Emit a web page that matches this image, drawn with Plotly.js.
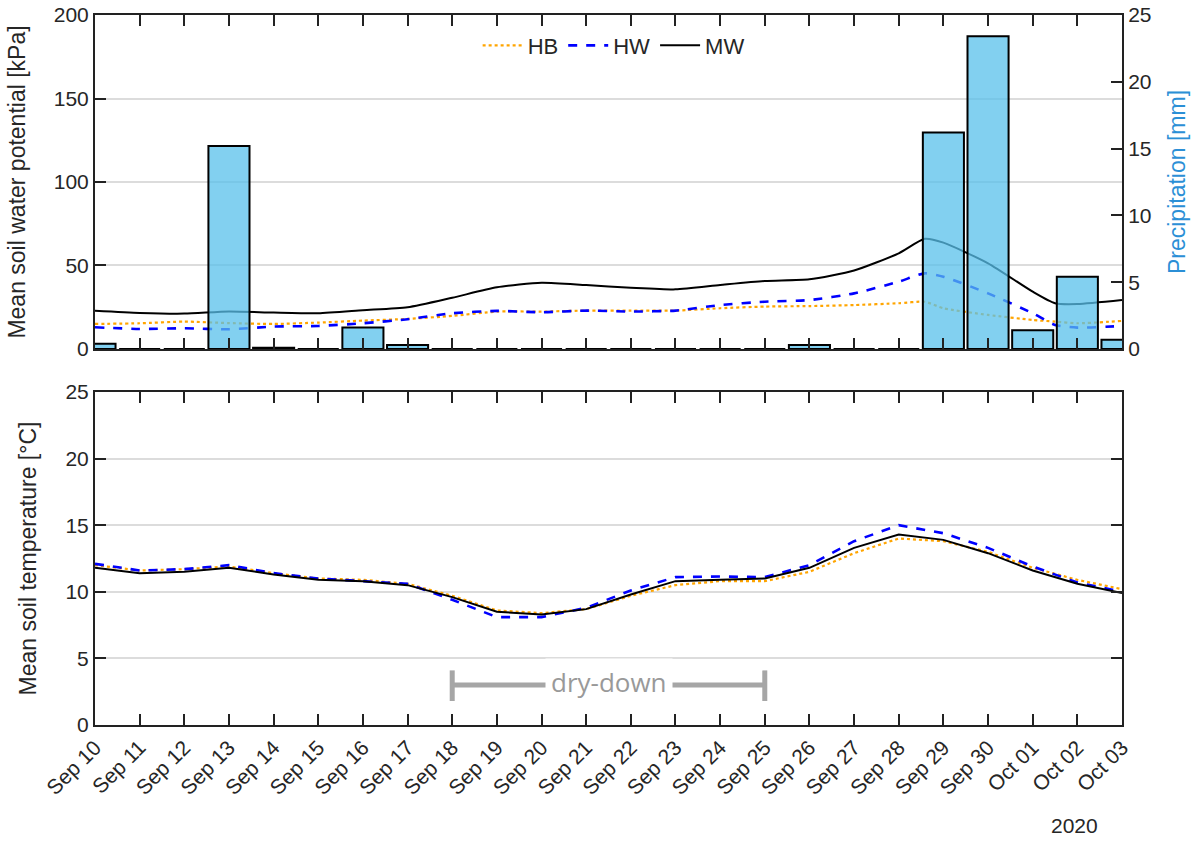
<!DOCTYPE html>
<html>
<head>
<meta charset="utf-8">
<script src="https://cdn.plot.ly/plotly-3.0.1.min.js"></script>
<style>
  html, body { margin: 0; padding: 0; background: #fff; }
  #chart { width: 1202px; height: 841px; }
</style>
</head>
<body>
<div id="chart"></div>
<script>
// ---- Data ----
// Precipitation (mm), daily
const precipDates = ['2020-09-10','2020-09-11','2020-09-12','2020-09-13','2020-09-14','2020-09-15','2020-09-16','2020-09-17','2020-09-18','2020-09-19','2020-09-20','2020-09-21','2020-09-22','2020-09-23','2020-09-24','2020-09-25','2020-09-26','2020-09-27','2020-09-28','2020-09-29','2020-09-30','2020-10-01','2020-10-02','2020-10-03'];
const precipMM   = [0.4, 0, 0, 15.2, 0.1, 0, 1.6, 0.3, 0, 0, 0, 0, 0, 0, 0, 0, 0.3, 0, 0, 16.2, 23.4, 1.4, 5.4, 0.7];

// Mean soil water potential (kPa)
const swpTimes = ['2020-09-10','2020-09-11','2020-09-12','2020-09-13','2020-09-14','2020-09-15','2020-09-16','2020-09-17','2020-09-18','2020-09-19','2020-09-20','2020-09-21','2020-09-22','2020-09-23','2020-09-24','2020-09-25','2020-09-26','2020-09-27','2020-09-28','2020-09-28 14:00','2020-09-29','2020-09-30','2020-10-01','2020-10-01 12:00','2020-10-02','2020-10-03'];
const swpHB = [15.0, 15.4, 16.4, 15.5, 15.0, 15.8, 17.0, 18.0, 19.8, 22.4, 22.4, 23.0, 23.0, 23.0, 24.4, 25.4, 25.7, 26.3, 27.4, 28.3, 24.4, 20.4, 17.4, 16.4, 15.4, 16.8];
const swpHW = [13.0, 12.0, 12.4, 11.8, 13.4, 13.8, 15.4, 17.8, 21.4, 22.8, 22.0, 23.0, 22.4, 23.0, 26.3, 28.3, 29.3, 33.3, 40.3, 45.3, 43.3, 33.3, 21.4, 14.4, 12.8, 13.8];
const swpMW = [22.9, 21.6, 21.2, 22.5, 21.8, 21.4, 23.2, 25.0, 30.7, 36.9, 39.7, 38.3, 36.7, 35.7, 38.3, 40.7, 41.7, 47.0, 57.3, 66.0, 63.7, 51.3, 34.3, 27.4, 26.9, 29.3];

// Mean soil temperature (°C), daily
const tempDates = precipDates;
const tempHB = [12.0, 11.6, 11.7, 11.9, 11.4, 11.0, 10.9, 10.6, 9.7, 8.6, 8.4, 8.7, 9.7, 10.5, 10.8, 10.8, 11.5, 12.9, 14.0, 13.8, 13.0, 11.8, 10.9, 10.2];
const tempHW = [12.1, 11.6, 11.7, 12.0, 11.4, 11.0, 10.8, 10.6, 9.4, 8.1, 8.1, 8.8, 10.1, 11.1, 11.15, 11.1, 12.0, 13.8, 15.0, 14.4, 13.3, 11.9, 10.7, 10.0];
const tempMW = [11.8, 11.4, 11.5, 11.8, 11.3, 10.9, 10.8, 10.5, 9.6, 8.5, 8.3, 8.7, 9.8, 10.8, 10.9, 11.0, 11.8, 13.3, 14.3, 13.9, 12.9, 11.6, 10.6, 9.9];

// Dry-down period
const dryDownPeriod = ['2020-09-18', '2020-09-25'];
const dryDownMid = '2020-09-21 12:00';
const dryDownLevel = 3;
const dryDownCap = [1.8, 4.1];

const seriesNames = ['HB', 'HW', 'MW'];
const xRange = ['2020-09-10', '2020-10-03'];
const yearLabel = '2020';

// ---- Styles ----
const FONT = 'Liberation Sans, Arial, sans-serif';
const styles = {
  HB: {color: '#FFA500', dash: 'dot', width: 2.2},
  HW: {color: '#0000FF', dash: 'dash', width: 2.6},
  MW: {color: '#000000', dash: 'solid', width: 2}
};

const swp = {HB: swpHB, HW: swpHW, MW: swpMW};
const temp = {HB: tempHB, HW: tempHW, MW: tempMW};

const traces = [];
seriesNames.forEach(n => {
  traces.push({
    type: 'scatter', mode: 'lines', name: n,
    x: swpTimes, y: swp[n], xaxis: 'x', yaxis: 'y',
    line: {color: styles[n].color, dash: styles[n].dash, width: styles[n].width, shape: 'spline', smoothing: 0.6},
    showlegend: true
  });
});
traces.push({
  type: 'bar', name: 'Precipitation', x: precipDates, y: precipMM,
  xaxis: 'x', yaxis: 'y2',
  width: 0.92 * 86400000,
  marker: {color: 'rgba(88,192,235,0.75)', line: {color: '#000', width: 2}},
  showlegend: false
});
seriesNames.forEach(n => {
  traces.push({
    type: 'scatter', mode: 'lines', name: n,
    x: tempDates, y: temp[n], xaxis: 'x2', yaxis: 'y3',
    line: {color: styles[n].color, dash: styles[n].dash, width: styles[n].width},
    showlegend: false
  });
});

const axisCommon = {
  showline: true, linecolor: '#222', linewidth: 2,
  ticks: 'inside', ticklen: 11, tickwidth: 2, tickcolor: '#222',
  tickfont: {family: FONT, size: 21, color: '#262626'},
  zeroline: false
};

const layout = {
  width: 1202, height: 841,
  margin: {l: 95, r: 80, t: 15, b: 116},
  paper_bgcolor: '#fff', plot_bgcolor: 'rgba(0,0,0,0)',
  font: {family: FONT, color: '#262626'},
  showlegend: true,
  legend: {orientation: 'h', x: 0.505, xanchor: 'center', y: 0.957, yanchor: 'middle',
           font: {family: FONT, size: 22, color: '#262626'}, bgcolor: 'rgba(0,0,0,0)',
           itemwidth: 40, tracegroupgap: 0},
  bargap: 0,
  xaxis: Object.assign({}, axisCommon, {
    type: 'date', range: xRange, domain: [0, 1], anchor: 'y',
    dtick: 86400000, showticklabels: false, mirror: 'ticks', showgrid: false
  }),
  yaxis: Object.assign({}, axisCommon, {
    domain: [0.5296, 1], range: [0, 200], dtick: 50, mirror: true,
    showgrid: true, gridcolor: '#dcdcdc', gridwidth: 2,
    title: {text: 'Mean soil water potential [kPa]', font: {family: FONT, size: 23, color: '#262626'}, standoff: 22}
  }),
  yaxis2: Object.assign({}, axisCommon, {
    overlaying: 'y', side: 'right', anchor: 'x', range: [0, 25], dtick: 5,
    showgrid: false,
    title: {text: 'Precipitation [mm]', font: {family: FONT, size: 23, color: '#2B8FD6'}, standoff: 18}
  }),
  xaxis2: Object.assign({}, axisCommon, {
    type: 'date', range: xRange, domain: [0, 1], anchor: 'y3', matches: 'x',
    dtick: 86400000, tickformat: '%b %d', tickangle: -45, mirror: 'ticks', showgrid: false,
    tickfont: {family: FONT, size: 21, color: '#262626'}
  }),
  yaxis3: Object.assign({}, axisCommon, {
    domain: [0, 0.469], range: [0, 25], dtick: 5, mirror: 'ticks', anchor: 'x2',
    showgrid: true, gridcolor: '#dcdcdc', gridwidth: 2,
    title: {text: 'Mean soil temperature [°C]', font: {family: FONT, size: 23, color: '#262626'}, standoff: 22}
  }),
  shapes: [
    {type: 'line', xref: 'x2', yref: 'y3', x0: dryDownPeriod[0], x1: dryDownPeriod[1], y0: dryDownLevel, y1: dryDownLevel,
     line: {color: '#a6a6a6', width: 5}},
    {type: 'line', xref: 'x2', yref: 'y3', x0: dryDownPeriod[0], x1: dryDownPeriod[0], y0: dryDownCap[0], y1: dryDownCap[1],
     line: {color: '#a6a6a6', width: 5}},
    {type: 'line', xref: 'x2', yref: 'y3', x0: dryDownPeriod[1], x1: dryDownPeriod[1], y0: dryDownCap[0], y1: dryDownCap[1],
     line: {color: '#a6a6a6', width: 5}}
  ],
  annotations: [
    {xref: 'x2', yref: 'y3', x: dryDownMid, y: dryDownLevel + 0.2, text: 'dry-down', showarrow: false,
     font: {family: 'Open Sans, sans-serif', size: 26, color: '#999'}, bgcolor: '#fff', borderpad: 5},
    {xref: 'paper', yref: 'paper', x: 0.954, y: -0.142, text: yearLabel, showarrow: false,
     font: {family: FONT, size: 21, color: '#262626'}, xanchor: 'center', yanchor: 'middle'}
  ]
};

Plotly.newPlot('chart', traces, layout, {displayModeBar: false, staticPlot: true});
</script>
</body>
</html>
